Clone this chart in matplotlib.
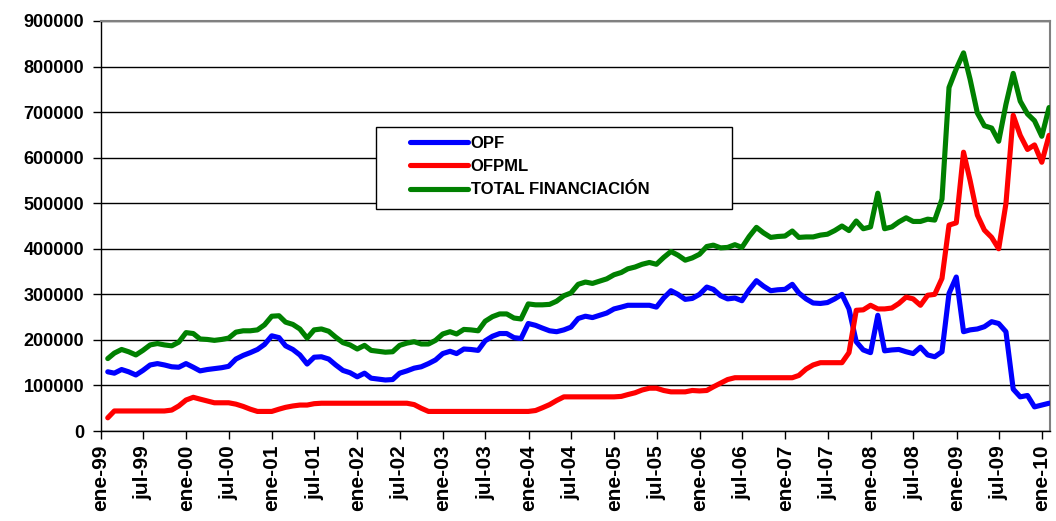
import matplotlib
matplotlib.use("Agg")
import matplotlib.pyplot as plt
from matplotlib.patches import Rectangle
import pandas as pd

# monthly data, ene-99 .. ene-10
opf = [130000, 127000, 135000, 130000, 123000, 133000, 145000, 148000, 145000, 141000,
       140000, 148000, 140000, 132000, 135000, 137000, 139000, 142000, 158000, 166000,
       172000, 179000, 190000, 209000, 205000, 187000, 179000, 167000, 147000, 162000,
       163000, 158000, 145000, 133000, 128000, 119000, 127000, 116000, 114000, 112000,
       113000, 127000, 132000, 138000, 141000, 148000, 156000, 170000, 175000, 170000,
       180000, 179000, 177000, 198000, 208000, 214000, 214000, 205000, 203000, 236000,
       232000, 226000, 220000, 218000, 222000, 228000, 247000, 252000, 249000, 254000,
       259000, 268000, 272000, 276000, 276000, 276000, 276000, 272000, 292000, 308000,
       300000, 289000, 291000, 300000, 316000, 311000, 297000, 290000, 292000, 286000,
       310000, 330000, 318000, 308000, 310000, 311000, 322000, 303000, 290000, 281000,
       280000, 282000, 290000, 300000, 268000, 196000, 178000, 172000, 254000, 176000,
       178000, 179000, 174000, 170000, 184000, 167000, 163000, 174000, 302000, 338000,
       218000, 222000, 224000, 229000, 240000, 236000, 218000, 92000, 75000, 78000,
       53000, 57000, 61000]

ofpml = [29000, 44000, 44000, 44000, 44000, 44000, 44000, 44000, 44000, 46000,
         55000, 68000, 74000, 70000, 66000, 62000, 62000, 62000, 59000, 54000,
         48000, 43000, 43000, 43000, 48000, 52000, 55000, 57000, 57000, 60000,
         61000, 61000, 61000, 61000, 61000, 61000, 61000, 61000, 61000, 61000,
         61000, 61000, 61000, 58000, 50000, 43000, 43000, 43000, 43000, 43000,
         43000, 43000, 43000, 43000, 43000, 43000, 43000, 43000, 43000, 43000,
         45000, 51000, 58000, 67000, 75000, 75000, 75000, 75000, 75000, 75000,
         75000, 75000, 76000, 80000, 84000, 90000, 94000, 94000, 89000, 86000,
         86000, 86000, 89000, 88000, 89000, 97000, 105000, 113000, 117000, 117000,
         117000, 117000, 117000, 117000, 117000, 117000, 117000, 122000, 136000, 145000,
         150000, 150000, 150000, 150000, 172000, 265000, 266000, 276000, 268000, 268000,
         270000, 280000, 294000, 290000, 276000, 298000, 300000, 335000, 452000, 457000,
         612000, 550000, 474000, 441000, 425000, 400000, 499000, 693000, 649000, 618000,
         628000, 590000, 649000]

total = [159000, 171000, 179000, 174000, 167000, 177000, 189000, 192000, 189000, 187000,
         195000, 216000, 214000, 202000, 201000, 199000, 201000, 204000, 217000, 220000,
         220000, 222000, 233000, 252000, 253000, 239000, 234000, 224000, 204000, 222000,
         224000, 219000, 206000, 194000, 189000, 180000, 188000, 177000, 175000, 173000,
         174000, 188000, 193000, 196000, 191000, 191000, 199000, 213000, 218000, 213000,
         223000, 222000, 220000, 241000, 251000, 257000, 257000, 248000, 246000, 279000,
         277000, 277000, 278000, 285000, 297000, 303000, 322000, 327000, 324000, 329000,
         334000, 343000, 348000, 356000, 360000, 366000, 370000, 366000, 381000, 394000,
         386000, 375000, 380000, 388000, 405000, 408000, 402000, 403000, 409000, 403000,
         427000, 447000, 435000, 425000, 427000, 428000, 439000, 425000, 426000, 426000,
         430000, 432000, 440000, 450000, 440000, 461000, 444000, 448000, 522000, 444000,
         448000, 459000, 468000, 460000, 460000, 465000, 463000, 509000, 754000, 795000,
         830000, 772000, 698000, 670000, 665000, 636000, 717000, 785000, 724000, 696000,
         681000, 647000, 710000]

series_names = ["OPF", "OFPML", "TOTAL FINANCIACIÓN"]
series_colors = ["#0000FF", "#FF0000", "#008000"]

tick_labels = ["ene-99", "jul-99", "ene-00", "jul-00", "ene-01", "jul-01", "ene-02",
               "jul-02", "ene-03", "jul-03", "ene-04", "jul-04", "ene-05", "jul-05",
               "ene-06", "jul-06", "ene-07", "jul-07", "ene-08", "jul-08", "ene-09",
               "jul-09", "ene-10"]

plt.rcParams["font.family"] = ["Liberation Sans", "DejaVu Sans"]
plt.rcParams["font.weight"] = "bold"

dates = pd.date_range("1999-01-01", periods=len(opf), freq="MS") + pd.offsets.MonthEnd(0)
tick_dates = pd.date_range("1999-01-01", periods=len(tick_labels), freq="6MS")

fig = plt.figure(figsize=(10.56, 5.21), dpi=100)
ax = fig.add_axes([0.0954, 0.1727, 0.8989, 0.7870])

for vals, name, col in zip([opf, ofpml, total], series_names, series_colors):
    ax.plot(dates, vals, color=col, lw=3.7, label=name,
            solid_capstyle="round", solid_joinstyle="round", zorder=3)

ax.set_ylim(0, 900000)
ax.set_yticks(range(0, 900001, 100000))
ax.set_yticklabels([str(v) for v in range(0, 900001, 100000)])
ax.set_xlim(pd.Timestamp("1999-01-01"), pd.Timestamp("2010-02-04"))
ax.set_xticks(tick_dates)
ax.set_xticklabels(tick_labels, rotation=90)

ax.yaxis.grid(True, color="black", lw=1)
ax.set_axisbelow(True)
ax.tick_params(axis="both", direction="out", length=6, width=1, colors="black")
ax.tick_params(axis="y", pad=6, labelsize=13)
ax.tick_params(axis="x", pad=4, labelsize=15)

for side in ["top", "right"]:
    ax.spines[side].set_color("#808080")
    ax.spines[side].set_linewidth(1.5)
for side in ["left", "bottom"]:
    ax.spines[side].set_color("black")
    ax.spines[side].set_linewidth(1)

# legend box
box = Rectangle((0.290, 0.5415), 0.375, 0.200, transform=ax.transAxes,
                facecolor="white", edgecolor="black", lw=1, zorder=4)
ax.add_patch(box)
leg = ax.legend(loc="center left", bbox_to_anchor=(0.3258, 0.645), frameon=False,
                borderpad=0, borderaxespad=0, handlelength=3.5, handletextpad=0.15,
                labelspacing=0.5, prop={"weight": "bold", "size": 12})
leg.set_zorder(5)

fig.savefig("out.png", dpi=100)
